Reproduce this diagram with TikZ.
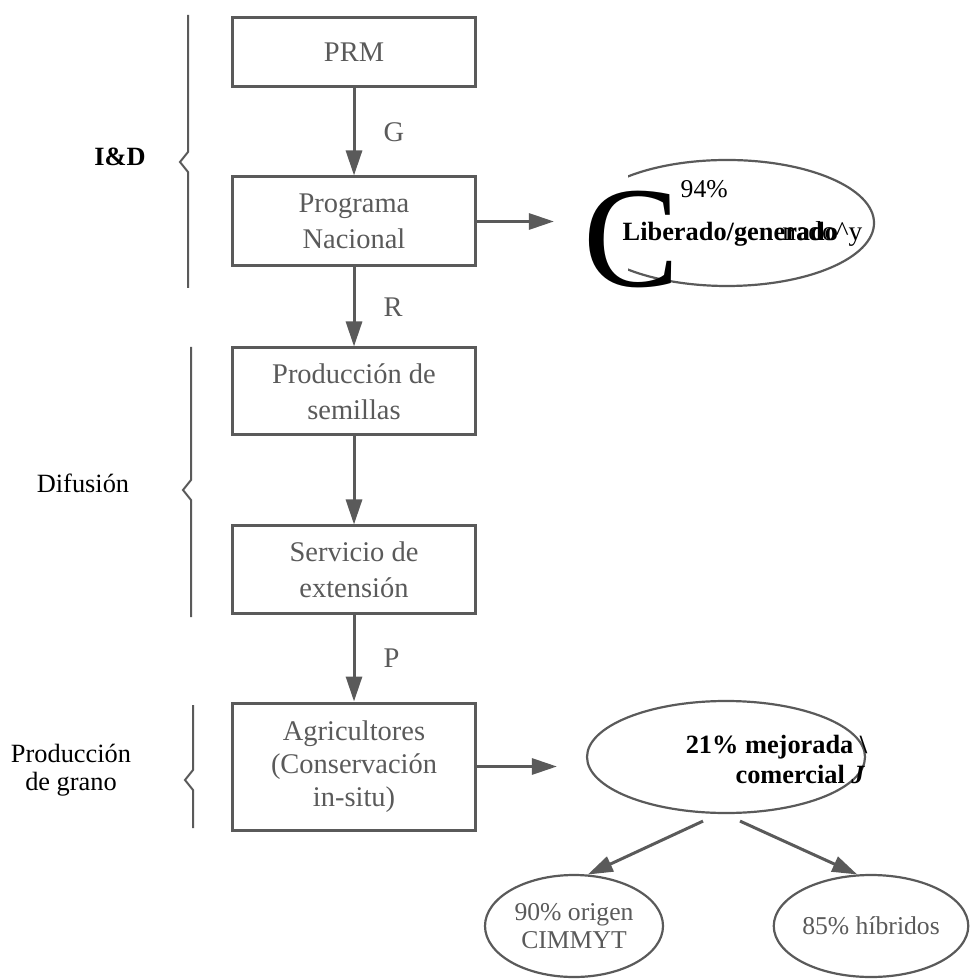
\documentclass[tikz,border=0pt]{standalone}
\usepackage{fontspec}
\setmainfont{Liberation Serif}
\usepackage{tikz}
\usetikzlibrary{shapes.geometric,arrows.meta}
\definecolor{scan}{HTML}{5A5A5A}
\tikzset{
    caja/.style={draw=scan, line width=0.3mm, minimum width=24.3mm, inner sep=0pt,
        text=scan, align=center, font=\fontsize{8.1}{10.2}\selectfont},
    flecha/.style={draw=scan, line width=0.3mm, -{Triangle[length=2.5mm,width=1.6mm]}},
    ovalo/.style={ellipse, draw=scan, line width=0.22mm, inner sep=0pt,
        text=scan, align=center, font=\fontsize{7.3}{8}\selectfont},
    llave/.style={draw=scan, line width=0.2mm},
    grupo/.style={inner sep=0pt, align=center, font=\fontsize{7.5}{7.8}\selectfont},
    etiq/.style={inner sep=0pt, text=scan, font=\fontsize{8.1}{9}\selectfont},
    ocr/.style={inner sep=0pt, font=\fontsize{7.5}{8}\selectfont\bfseries},
}

\begin{document}
\begin{tikzpicture}[x=0.1mm, y=-0.1mm]
\useasboundingbox (0,0) rectangle (977,979);

\node[caja, minimum height=6.9mm] (prm) at (354,52.5) {PRM};
\node[caja, minimum height=8.9mm] (prog) at (354,221.5) {Programa\\Nacional};
\node[caja, minimum height=8.7mm] (sem) at (354,391.5) {Producción de\\semillas};
\node[caja, minimum height=8.7mm] (ext) at (354,569.5) {Servicio de\\extensión};
\node[caja, minimum height=12.7mm, font=\fontsize{8.1}{9.4}\selectfont] (agr) at (354,766.5)
    {Agricultores\\(Conservación\\in-situ)};

\draw[flecha] (prm) -- node[etiq, right=2.8mm] (lblG) {G} (prog);
\draw[flecha] (prog) -- node[etiq, right=2.8mm] (lblR) {R} (sem);
\draw[flecha] (sem) -- (ext);
\draw[flecha] (ext) -- node[etiq, right=2.8mm] (lblP) {P} (agr);

\draw[llave] (188,15) -- (188,152) -- (180,162) -- (188,172) -- (188,288);
\draw[llave] (191,347) -- (191,480) -- (183,490) -- (191,500) -- (191,617);
\draw[llave] (193,705) -- (193,770) -- (185,780) -- (193,790) -- (193,828);

\node[grupo, font=\fontsize{7.5}{8}\selectfont\bfseries] (iyd) at (120,157) {I\&D};
\node[grupo] (dif) at (83,483) {Difusión};
\node[grupo] (grano) at (71,770) {Producción\\de grano};

\node[ovalo, minimum width=29.4mm, minimum height=12.6mm] (lib) at (727,223) {};
\fill[white] (570,160) rectangle (628,292);
\draw[flecha, shorten >=2.5mm] (prog) -- (prog -| lib.west);
\node[inner sep=0pt, anchor=base west, font=\fontsize{41}{41}\selectfont] (letC) at (583,287) {C};
\node[ocr, anchor=base west, font=\fontsize{7.3}{8}\selectfont] (pct) at (680,198) {94\%};
\node[ocr, anchor=base west] (libtxt) at (622,241) {Liberado/generado};
\node[inner sep=0pt, anchor=base east, font=\fontsize{7.8}{8}\selectfont] (resto) at (863,241) {nado\textasciicircum y};

\node[ovalo, minimum width=27.8mm, minimum height=11.2mm] (mej) at (726,757) {};
\draw[flecha, shorten >=2.9mm] (agr) -- (agr -| mej.west);
\node[ocr, anchor=base east] (mejA) at (868,753) {21\% mejorada \textbackslash};
\node[ocr, anchor=base east] (mejB) at (866,783) {comercial \textit{J}};

\node[ovalo, minimum width=17.8mm, minimum height=10.2mm] (orig) at (574,926) {90\% origen\\CIMMYT};
\node[ovalo, minimum width=18.2mm, minimum height=10.2mm] (hib) at (871,926) {85\% híbridos};
\draw[flecha] ([xshift=-2.3mm,yshift=-0.7mm]mej.south) -- (orig.75);
\draw[flecha] ([xshift=1.4mm,yshift=-0.7mm]mej.south) -- (hib.105);
\end{tikzpicture}
\end{document}
